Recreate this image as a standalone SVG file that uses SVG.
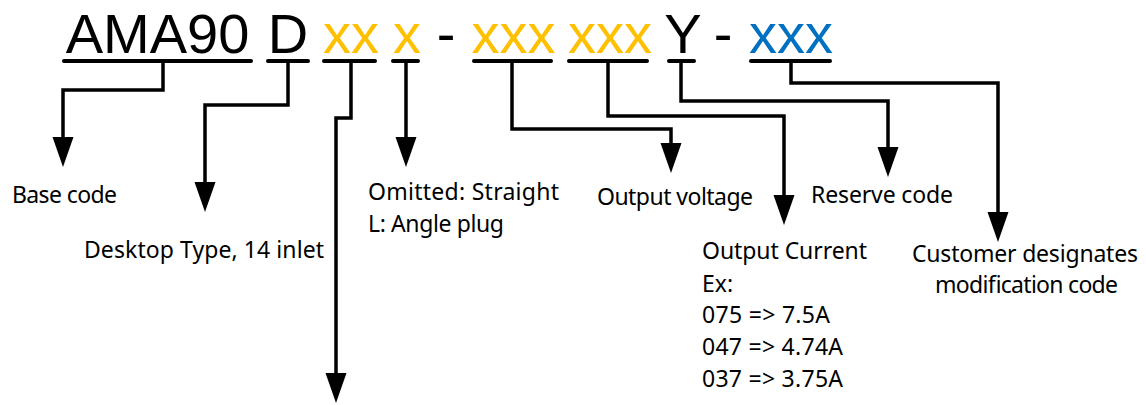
<svg xmlns="http://www.w3.org/2000/svg" width="1146" height="405" viewBox="0 0 1146 405">
<style>
.code{font-family:"Liberation Sans","DejaVu Sans",sans-serif;font-size:56px;text-anchor:middle}
.k{fill:#000}
.y{fill:#FFC000}
.b{fill:#0070C0}
.lbl{font-family:"Noto Sans","Liberation Sans",sans-serif;font-size:23px;fill:#000}
.ul{stroke:#000;stroke-width:4;stroke-linecap:round;fill:none}
.con{stroke:#000;stroke-width:3.5;fill:none;stroke-linejoin:miter;marker-end:url(#arr)}
</style>
<defs>
<marker id="arr" markerUnits="userSpaceOnUse" markerWidth="30" markerHeight="21" refX="0" refY="10.5" orient="auto" overflow="visible">
<path d="M0,0 L30,10.5 L0,21 z" fill="#000"/>
</marker>
</defs>
<rect width="1146" height="405" fill="#fff"/>
<g id="code">
<text class="code k" x="157.5" y="53">AMA90</text>
<text class="code k" x="288" y="53">D</text>
<text class="code y" x="351" y="53">xx</text>
<text class="code y" x="407" y="53">x</text>
<text class="code k" x="446" y="53">-</text>
<text class="code y" x="513.5" y="53">xxx</text>
<text class="code y" x="610" y="53">xxx</text>
<text class="code k" x="683" y="53">Y</text>
<text class="code k" x="723" y="53">-</text>
<text class="code b" x="791" y="53">xxx</text>
</g>
<g id="underlines">
<line class="ul" x1="64" y1="61" x2="251" y2="61"/>
<line class="ul" x1="268" y1="61" x2="308" y2="61"/>
<line class="ul" x1="324" y1="61" x2="375" y2="61"/>
<line class="ul" x1="393" y1="61" x2="418" y2="61"/>
<line class="ul" x1="474" y1="61" x2="551" y2="61"/>
<line class="ul" x1="569" y1="61" x2="647" y2="61"/>
<line class="ul" x1="669" y1="61" x2="694" y2="61"/>
<line class="ul" x1="751" y1="61" x2="830" y2="61"/>
</g>
<g id="connectors">
<path class="con" d="M163,61 V90 H63 V137"/>
<path class="con" d="M288,61 V105 H205 V182"/>
<path class="con" d="M351,61 V118 H336 V373"/>
<path class="con" d="M406,61 V137"/>
<path class="con" d="M512,61 V129 H671 V143"/>
<path class="con" d="M608,61 V116 H784 V195"/>
<path class="con" d="M681,61 V101 H888 V147"/>
<path class="con" d="M791,61 V83 H998 V212"/>
</g>
<g id="base-code"><text class="lbl" x="12" y="203" textLength="105">Base code</text></g>
<g id="desktop-type"><text class="lbl" x="84" y="258" textLength="240">Desktop Type, 14 inlet</text></g>
<g id="plug">
<text class="lbl" x="368" y="200" textLength="191">Omitted: Straight</text>
<text class="lbl" x="368" y="232" textLength="136">L: Angle plug</text>
</g>
<g id="output-voltage"><text class="lbl" x="597" y="205" textLength="156">Output voltage</text></g>
<g id="output-current">
<text class="lbl" x="702" y="259" textLength="165">Output Current</text>
<text class="lbl" x="702" y="292">Ex:</text>
<text class="lbl" x="702" y="323" textLength="128">075 =&gt; 7.5A</text>
<text class="lbl" x="702" y="355" textLength="141">047 =&gt; 4.74A</text>
<text class="lbl" x="702" y="387" textLength="141">037 =&gt; 3.75A</text>
</g>
<g id="reserve-code"><text class="lbl" x="811" y="203" textLength="142">Reserve code</text></g>
<g id="customer-code">
<text class="lbl" x="912" y="262" textLength="226">Customer designates</text>
<text class="lbl" x="935" y="293" textLength="183">modification code</text>
</g>
</svg>
